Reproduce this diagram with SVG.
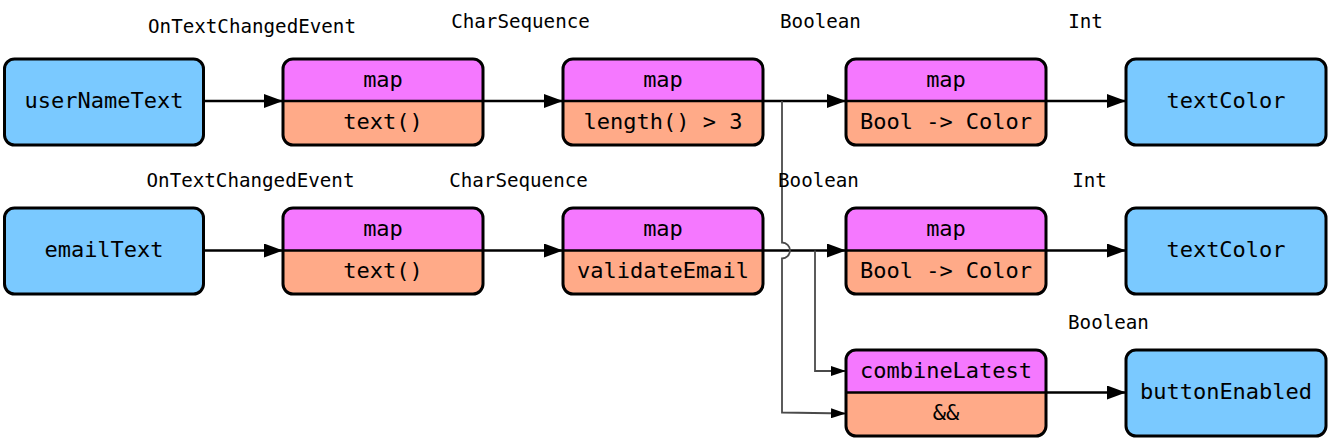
<svg xmlns="http://www.w3.org/2000/svg" width="1330" height="440" viewBox="0 0 1330 440">
<style>
  .blue{fill:#7AC9FF;stroke:#000;stroke-width:3}
  .top{fill:#F578FF}
  .bot{fill:#FFAA88}
  .frame{fill:none;stroke:#000;stroke-width:3}
  .div{stroke:#000;stroke-width:2.5}
  .nt{font-family:"DejaVu Sans Mono","Liberation Mono",monospace;font-size:22px;fill:#000;text-anchor:middle}
  .lb{font-family:"DejaVu Sans Mono","Liberation Mono",monospace;font-size:19.2px;fill:#000;text-anchor:middle}
  .edge{fill:none;stroke:#000;stroke-width:2.5}
  .thin{fill:none;stroke:#4a4a4a;stroke-width:1.8}
</style>
<defs>
  <marker id="ah" markerUnits="userSpaceOnUse" markerWidth="20" markerHeight="14" refX="19" refY="7" orient="auto">
    <path d="M0,0 L19,7 L0,14 z" fill="#000"/>
  </marker>
  <marker id="ahs" markerUnits="userSpaceOnUse" markerWidth="15" markerHeight="10" refX="15" refY="5" orient="auto">
    <path d="M0,0 L15,5 L0,10 z" fill="#000"/>
  </marker>
</defs>

<g id="connectors">
  <path class="edge" d="M204,101 H283" marker-end="url(#ah)"/>
  <path class="edge" d="M483,101 H563" marker-end="url(#ah)"/>
  <path class="edge" d="M763,101 H846" marker-end="url(#ah)"/>
  <path class="edge" d="M1046,101 H1126" marker-end="url(#ah)"/>
  <path class="edge" d="M204,250.5 H283" marker-end="url(#ah)"/>
  <path class="edge" d="M483,250.5 H563" marker-end="url(#ah)"/>
  <path class="edge" d="M763,250.5 H846" marker-end="url(#ah)"/>
  <path class="edge" d="M1046,250.5 H1126" marker-end="url(#ah)"/>
  <path class="edge" d="M1046,392.5 H1126" marker-end="url(#ah)"/>
  <path class="thin" d="M782,101 V242.5 A8,8 0 0 1 782,258.5 V412.5 L846,413.5" marker-end="url(#ahs)"/>
  <path class="thin" d="M815,250.5 V371 H846" marker-end="url(#ahs)"/>
</g>

<g id="labels">
  <text class="lb" x="252" y="33">OnTextChangedEvent</text>
  <text class="lb" x="520.5" y="28">CharSequence</text>
  <text class="lb" x="820.5" y="28">Boolean</text>
  <text class="lb" x="1085.5" y="28">Int</text>
  <text class="lb" x="250.5" y="187">OnTextChangedEvent</text>
  <text class="lb" x="518.5" y="187">CharSequence</text>
  <text class="lb" x="818.5" y="187">Boolean</text>
  <text class="lb" x="1089.5" y="187">Int</text>
  <text class="lb" x="1108.5" y="329">Boolean</text>
</g>

<g id="userNameText">
  <rect class="blue" x="4.5" y="59" width="199" height="86" rx="10"/>
  <text class="nt" x="104" y="108">userNameText</text>
</g>
<g id="map1">
  <path class="top" d="M293,59 H473 A10,10 0 0 1 483,69 V101 H283 V69 A10,10 0 0 1 293,59 z"/>
  <path class="bot" d="M283,101 H483 V135 A10,10 0 0 1 473,145 H293 A10,10 0 0 1 283,135 z"/>
  <line class="div" x1="283" y1="101" x2="483" y2="101"/>
  <rect class="frame" x="283" y="59" width="200" height="86" rx="10"/>
  <text class="nt" x="383" y="87">map</text>
  <text class="nt" x="383" y="129">text()</text>
</g>
<g id="map2">
  <path class="top" d="M573,59 H753 A10,10 0 0 1 763,69 V101 H563 V69 A10,10 0 0 1 573,59 z"/>
  <path class="bot" d="M563,101 H763 V135 A10,10 0 0 1 753,145 H573 A10,10 0 0 1 563,135 z"/>
  <line class="div" x1="563" y1="101" x2="763" y2="101"/>
  <rect class="frame" x="563" y="59" width="200" height="86" rx="10"/>
  <text class="nt" x="663" y="87">map</text>
  <text class="nt" x="663" y="129">length() &gt; 3</text>
</g>
<g id="map3">
  <path class="top" d="M856,59 H1036 A10,10 0 0 1 1046,69 V101 H846 V69 A10,10 0 0 1 856,59 z"/>
  <path class="bot" d="M846,101 H1046 V135 A10,10 0 0 1 1036,145 H856 A10,10 0 0 1 846,135 z"/>
  <line class="div" x1="846" y1="101" x2="1046" y2="101"/>
  <rect class="frame" x="846" y="59" width="200" height="86" rx="10"/>
  <text class="nt" x="946" y="87">map</text>
  <text class="nt" x="946" y="129">Bool -&gt; Color</text>
</g>
<g id="textColor1">
  <rect class="blue" x="1126" y="59" width="200" height="86" rx="10"/>
  <text class="nt" x="1226" y="108">textColor</text>
</g>

<g id="emailText">
  <rect class="blue" x="4.5" y="208" width="199" height="86" rx="10"/>
  <text class="nt" x="104" y="257">emailText</text>
</g>
<g id="map4">
  <path class="top" d="M293,208 H473 A10,10 0 0 1 483,218 V250.5 H283 V218 A10,10 0 0 1 293,208 z"/>
  <path class="bot" d="M283,250.5 H483 V284 A10,10 0 0 1 473,294 H293 A10,10 0 0 1 283,284 z"/>
  <line class="div" x1="283" y1="250.5" x2="483" y2="250.5"/>
  <rect class="frame" x="283" y="208" width="200" height="86" rx="10"/>
  <text class="nt" x="383" y="236">map</text>
  <text class="nt" x="383" y="278">text()</text>
</g>
<g id="map5">
  <path class="top" d="M573,208 H753 A10,10 0 0 1 763,218 V250.5 H563 V218 A10,10 0 0 1 573,208 z"/>
  <path class="bot" d="M563,250.5 H763 V284 A10,10 0 0 1 753,294 H573 A10,10 0 0 1 563,284 z"/>
  <line class="div" x1="563" y1="250.5" x2="763" y2="250.5"/>
  <rect class="frame" x="563" y="208" width="200" height="86" rx="10"/>
  <text class="nt" x="663" y="236">map</text>
  <text class="nt" x="663" y="278">validateEmail</text>
</g>
<g id="map6">
  <path class="top" d="M856,208 H1036 A10,10 0 0 1 1046,218 V250.5 H846 V218 A10,10 0 0 1 856,208 z"/>
  <path class="bot" d="M846,250.5 H1046 V284 A10,10 0 0 1 1036,294 H856 A10,10 0 0 1 846,284 z"/>
  <line class="div" x1="846" y1="250.5" x2="1046" y2="250.5"/>
  <rect class="frame" x="846" y="208" width="200" height="86" rx="10"/>
  <text class="nt" x="946" y="236">map</text>
  <text class="nt" x="946" y="278">Bool -&gt; Color</text>
</g>
<g id="textColor2">
  <rect class="blue" x="1126" y="208" width="200" height="86" rx="10"/>
  <text class="nt" x="1226" y="257">textColor</text>
</g>

<g id="combineLatest">
  <path class="top" d="M856,350 H1036 A10,10 0 0 1 1046,360 V392.5 H846 V360 A10,10 0 0 1 856,350 z"/>
  <path class="bot" d="M846,392.5 H1046 V426 A10,10 0 0 1 1036,436 H856 A10,10 0 0 1 846,426 z"/>
  <line class="div" x1="846" y1="392.5" x2="1046" y2="392.5"/>
  <rect class="frame" x="846" y="350" width="200" height="86" rx="10"/>
  <text class="nt" x="946" y="378">combineLatest</text>
  <text class="nt" x="946" y="420">&amp;&amp;</text>
</g>
<g id="buttonEnabled">
  <rect class="blue" x="1126" y="350" width="200" height="86" rx="10"/>
  <text class="nt" x="1226" y="399">buttonEnabled</text>
</g>
</svg>
